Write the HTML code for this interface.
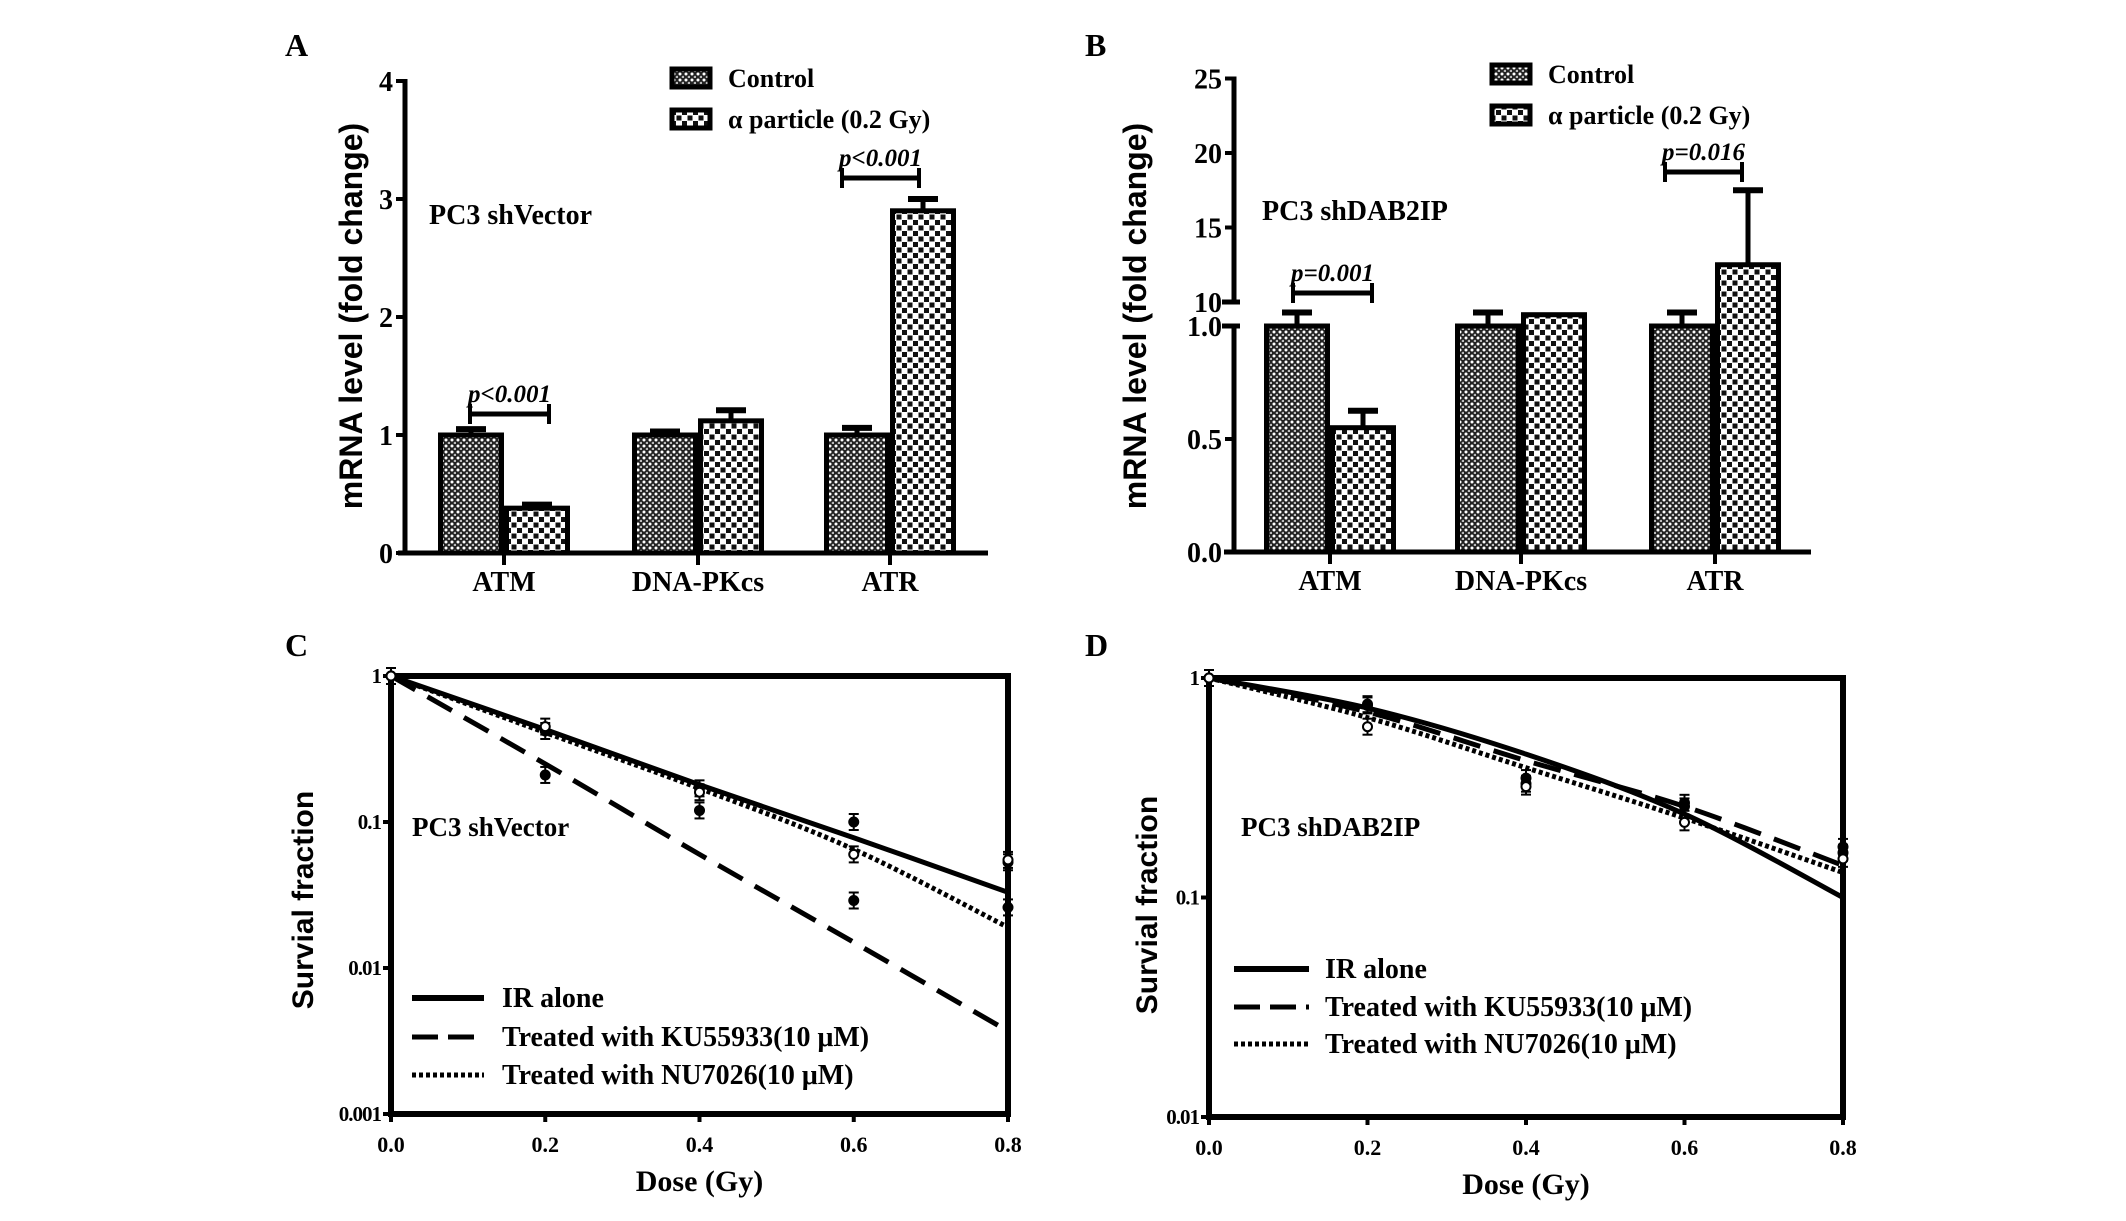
<!DOCTYPE html>
<html><head><meta charset="utf-8"><style>
html,body{margin:0;padding:0;background:#fff;overflow:hidden;}
svg text{font-family:"Liberation Serif",serif;font-weight:bold;fill:#000;}
.yt{font-family:"Liberation Sans",sans-serif !important;}
</style></head><body>
<svg id="fig" width="2126" height="1216" viewBox="0 0 2126 1216" xmlns="http://www.w3.org/2000/svg">
<defs>
<pattern id="pc" width="6" height="6" patternUnits="userSpaceOnUse"><rect width="6" height="6" fill="#222"/><circle cx="2" cy="2" r="1.5" fill="#fff"/><circle cx="5" cy="5" r="1.3" fill="#bbb"/></pattern>
<pattern id="pa" width="11" height="11" patternUnits="userSpaceOnUse"><rect width="11" height="11" fill="#fff"/><rect width="5" height="5" fill="#111"/><rect x="5.5" y="5.5" width="5" height="5" fill="#111"/></pattern>
</defs>
<g id="root"></g>
</svg>
<script>
// Panel A data
const genes = ["ATM","DNA-PKcs","ATR"];
const aControl = [1.0, 1.0, 1.0];
const aControlErr = [0.05, 0.03, 0.06];
const aAlpha = [0.38, 1.12, 2.9];
const aAlphaErr = [0.03, 0.09, 0.10];
const aTicks = [0,1,2,3,4];
// Panel B data
const bControl = [1.0, 1.0, 1.0];
const bControlErr = [0.06, 0.06, 0.06];
const bAlpha = [0.55, 1.05, 12.5];
const bAlphaErr = [0.075, 0, 5.0];
const bTicksLow = ["0.0","0.5","1.0"];
const bTicksHigh = ["10","15","20","25"];
// Panel C/D data
const doses = [0, 0.2, 0.4, 0.6, 0.8];
const doseTicks = ["0.0","0.2","0.4","0.6","0.8"];
const cFitIR = [1, 0.43, 0.18, 0.078, 0.033];
const cFitKU = [1, 0.25, 0.06, 0.015, 0.0037];
const cFitNU = [1, 0.41, 0.17, 0.065, 0.019];
const cPtIR = [1, 0.42, 0.17, 0.10, 0.053];
const cPtKU = [1, 0.21, 0.12, 0.029, 0.026];
const cPtNU = [1, 0.45, 0.16, 0.06, 0.055];
const cTicks = ["1","0.1","0.01","0.001"];
const dFitIR = [1, 0.73, 0.45, 0.24, 0.10];
const dFitKU = [1, 0.70, 0.42, 0.26, 0.14];
const dFitNU = [1, 0.66, 0.39, 0.23, 0.13];
const dPtIR = [1, 0.76, 0.35, 0.27, 0.17];
const dPtKU = [1, 0.75, 0.33, 0.26, 0.16];
const dPtNU = [1, 0.60, 0.32, 0.22, 0.15];
const dTicks = ["1","0.1","0.01"];

const NS="http://www.w3.org/2000/svg";
const root=document.getElementById('root');
function mk(tag,attrs,parent,txt){const e=document.createElementNS(NS,tag);for(const k in attrs)e.setAttribute(k,attrs[k]);if(txt!==undefined)e.textContent=txt;(parent||root).appendChild(e);return e;}
function line(x1,y1,x2,y2,w,p,dash){const l=mk('line',{x1,y1,x2,y2,stroke:'#000','stroke-width':w},p);if(dash)l.setAttribute('stroke-dasharray',dash);return l;}
function txt(x,y,s,size,anchor,p,extra){const t=mk('text',{x,y,'font-size':size,'text-anchor':anchor||'start'},p,s);if(extra)for(const k in extra)t.setAttribute(k,extra[k]);return t;}

function barPanel(o){
  const g=mk('g',{},root);
  
  
  txt(o.lx,o.ly,o.letter,32,'start',g);
  o.axis(g);
  line(o.x0,o.base,o.x1,o.base,5,g);
  genes.forEach((gn,i)=>{
    const cx=o.gx[i];
    line(cx,o.base,cx,o.base+12,4,g);
    const t=txt(cx,o.base+38,gn,28,'middle',g);
    
    
    [[o.ctrl[i],o.ctrlErr[i],'pc',cx-o.bw],[o.alpha[i],o.alphaErr[i],'pa',cx]].forEach(([v,e,pat,x],j)=>{
      const yt=o.y(v);
      const eg=mk('g',{},g);
      if(e>0){const ye=o.y(v+e);line(x+o.bw/2,ye,x+o.bw/2,yt,5,eg);line(x+o.bw/2-15,ye,x+o.bw/2+15,ye,6,eg);}
      const r=mk('rect',{x:x+2.5,y:yt,width:o.bw-5,height:o.base-yt,fill:'url(#'+pat+')',stroke:'#000','stroke-width':5},g);
      
      
    });
  });
  const yt=txt(o.ytx,o.yty,'mRNA level (fold change)',32,'middle',g,{transform:`rotate(-90 ${o.ytx} ${o.yty})`,class:'yt'});
  
  
  txt(o.cx,o.cy,o.cell,28,'start',g);
  const lg=mk('g',{},g);
  
  
  mk('rect',{x:o.legx,y:o.legy,width:38,height:18,fill:'url(#pc)',stroke:'#000','stroke-width':5},lg);
  mk('rect',{x:o.legx,y:o.legy+41,width:38,height:18,fill:'url(#pa)',stroke:'#000','stroke-width':5},lg);
  txt(o.legx+56,o.legy+18,'Control',26,'start',lg);
  txt(o.legx+56,o.legy+59,'α particle (0.2 Gy)',26,'start',lg);
  o.pv.forEach(p=>{
    const pg=mk('g',{},g);
    
    
    line(p[0],p[2],p[1],p[2],5,pg);line(p[0],p[2]-10,p[0],p[2]+10,4,pg);line(p[1],p[2]-10,p[1],p[2]+10,4,pg);
    txt((p[0]+p[1])/2,p[2]-12,p[3],25,'middle',pg,{'font-style':'italic'});
  });
}

// Panel A
const yA=v=>553-v*118;
barPanel({name:'panel-a',letter:'A',lx:285,ly:56,x0:398,x1:988,base:553,gx:[504,698,890],bw:66,
 ctrl:aControl,ctrlErr:aControlErr,alpha:aAlpha,alphaErr:aAlphaErr,y:yA,
 axis:g=>{line(405,yA(4)-2,405,555,5,g);aTicks.forEach(t=>{line(396,yA(t),405,yA(t),4,g);txt(393,yA(t)+10,String(t),28,'end',g);});},
 ytx:362,yty:316,cx:429,cy:224,cell:'PC3  shVector',legx:672,legy:69,
 pv:[[470,549,414,'p<0.001'],[842,919,178,'p<0.001']]});

// Panel B (broken axis)
const yB=v=>v<=1.5?552-v*226:302-(v-10)*14.9;
barPanel({name:'panel-b',letter:'B',lx:1085,ly:56,x0:1224,x1:1811,base:552,gx:[1330,1521,1715],bw:66,
 ctrl:bControl,ctrlErr:bControlErr,alpha:bAlpha,alphaErr:bAlphaErr,y:yB,
 axis:g=>{line(1234,yB(25)-2,1234,yB(10),5,g);line(1234,yB(1),1234,554,5,g);
   bTicksLow.forEach(t=>{const y=yB(+t);line(1225,y,1234,y,4,g);txt(1222,y+10,t,28,'end',g);});
   bTicksHigh.forEach(t=>{const y=yB(+t);line(1225,y,1234,y,4,g);txt(1222,y+10,t,28,'end',g);});
   line(1222,yB(10),1240,yB(10),5,g);line(1222,yB(1),1240,yB(1),5,g);},
 ytx:1146,yty:316,cx:1262,cy:220,cell:'PC3  shDAB2IP',legx:1492,legy:65,
 pv:[[1293,1372,293,'p=0.001'],[1665,1742,172,'p=0.016']]});

function smoothPath(pts){
  let d='M'+pts[0][0]+','+pts[0][1];
  for(let i=0;i<pts.length-1;i++){
    const p0=pts[Math.max(0,i-1)],p1=pts[i],p2=pts[i+1],p3=pts[Math.min(pts.length-1,i+2)];
    const c1=[p1[0]+(p2[0]-p0[0])/6,p1[1]+(p2[1]-p0[1])/6];
    const c2=[p2[0]-(p3[0]-p1[0])/6,p2[1]-(p3[1]-p1[1])/6];
    d+=' C'+c1.join(',')+' '+c2.join(',')+' '+p2.join(',');
  }
  return d;
}

// Survival panels
function survPanel(o){
  const g=mk('g',{},root);
  
  
  txt(o.lx,o.ly,o.letter,32,'start',g);
  const X=d=>o.L+(d/0.8)*(o.R-o.L);
  const Y=v=>o.T+(-Math.log10(v))*o.dec;
  mk('rect',{x:o.L,y:o.T,width:o.R-o.L,height:o.B-o.T,fill:'none',stroke:'#000','stroke-width':6},g);
  o.ticks.forEach(t=>{const y=Y(+t);line(o.L-8,y,o.L,y,4,g);txt(o.L-10,y+7,t,21,'end',g,{'letter-spacing':'-1'});});
  doseTicks.forEach(t=>{const x=X(+t);line(x,o.B,x,o.B+8,4,g);txt(x,o.B+38,t,22,'middle',g);});
  txt((o.L+o.R)/2,o.B+77,'Dose (Gy)',30,'middle',g);
  const yt=txt(o.ytx,o.yty,'Survial fraction',30,'middle',g,{transform:`rotate(-90 ${o.ytx} ${o.yty})`,class:'yt'});
  
  
  txt(o.cx,o.cy,o.cell,27,'start',g);
  const styles=[['',5],['28 14',5],['4 3',5]];
  o.fits.forEach((f,k)=>{
    const pl=mk('path',{d:smoothPath(doses.map((d,i)=>[X(d),Y(f[i])])),fill:'none',stroke:'#000','stroke-width':styles[k][1]},g);
    if(styles[k][0])pl.setAttribute('stroke-dasharray',styles[k][0]);
    
    
  });
  o.pts.forEach((p,k)=>{
    doses.forEach((d,i)=>{
      const x=X(d),y=Y(p[i]);
      line(x,y-8,x,y+8,2,g);line(x-5,y-8,x+5,y-8,2,g);line(x-5,y+8,x+5,y+8,2,g);
      const c=mk('circle',{cx:x,cy:y,r:4.5,fill:k==2?'#fff':'#000',stroke:'#000','stroke-width':2},g);
      
      
    });
  });
  const lg=mk('g',{},g);
  
  
  const labs=['IR alone','Treated with KU55933(10 μM)','Treated with NU7026(10 μM)'];
  labs.forEach((s,k)=>{
    const y=o.legY[k];
    line(o.legX,y,o.legX+o.legW,y,k==0?6:5,lg,k==1?'26 10':(k==2?'4 3':''));
    txt(o.legTX,y+9,s,28,'start',lg);
  });
}
survPanel({name:'panel-c',letter:'C',lx:285,ly:656,L:391,R:1008,T:676,B:1114,dec:146,ticks:cTicks,
 fits:[cFitIR,cFitKU,cFitNU],pts:[cPtIR,cPtKU,cPtNU],ytx:313,yty:900,cx:412,cy:836,cell:'PC3  shVector',
 legX:412,legW:72,legTX:502,legY:[998,1037,1075]});
survPanel({name:'panel-d',letter:'D',lx:1085,ly:656,L:1209,R:1843,T:678,B:1117,dec:219.5,ticks:dTicks,
 fits:[dFitIR,dFitKU,dFitNU],pts:[dPtIR,dPtKU,dPtNU],ytx:1157,yty:905,cx:1241,cy:836,cell:'PC3  shDAB2IP',
 legX:1234,legW:75,legTX:1325,legY:[969,1007,1044]});
</script>
</body></html>
